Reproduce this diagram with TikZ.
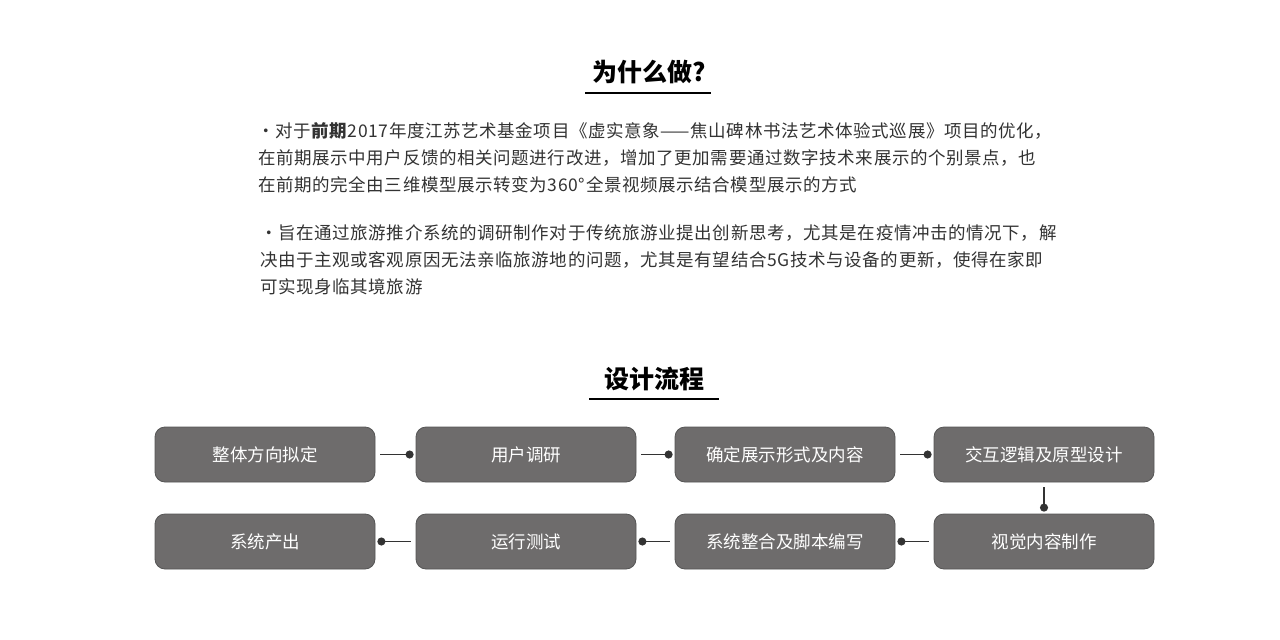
\documentclass[tikz,border=0pt]{standalone}
\usepackage{fontspec}
\setmainfont{Noto Sans CJK SC}
\newfontfamily\paraf[LetterSpace=3.5]{Noto Sans CJK SC}
\usetikzlibrary{arrows.meta}
\definecolor{boxg}{HTML}{6E6C6C}
\definecolor{edgeg}{HTML}{555555}
\definecolor{txt}{HTML}{333333}
\begin{document}
\begin{tikzpicture}[x=1pt,y=-1pt,
  stepbox/.style={draw=edgeg,line width=0.8pt,fill=boxg,rounded corners=10pt,minimum width=220pt,minimum height=55pt,text=white,font=\fontsize{17.5}{20}\selectfont,inner sep=0pt},
  conn/.style={draw=txt,line width=1.6pt,-{Circle[length=8pt,width=8pt]},shorten <=5pt,shorten >=2pt},
  para/.style={anchor=west,text=txt,font=\paraf\fontsize{17.5}{20}\selectfont,inner sep=0pt},
  ttl/.style={font=\fontsize{25}{30}\selectfont\bfseries,text=black,inner sep=0pt}]
\useasboundingbox[fill=white] (0,0) rectangle (1280,640);
\node[ttl] (t1) at (649,72) {为什么做?};
\draw[line width=1.5pt] (585,93) -- (711,93);
\node[para] (p1) at (257,131) {·对于\textbf{前期}2017年度江苏艺术基金项目《虚实意象——焦山碑林书法艺术体验式巡展》项目的优化，};
\node[para] (p2) at (258,158) {在前期展示中用户反馈的相关问题进行改进，增加了更加需要通过数字技术来展示的个别景点，也};
\node[para] (p3) at (258,185) {在前期的完全由三维模型展示转变为360°全景视频展示结合模型展示的方式};
\node[para] (p4) at (260,233) {·旨在通过旅游推介系统的调研制作对于传统旅游业提出创新思考，尤其是在疫情冲击的情况下，解};
\node[para] (p5) at (260,260) {决由于主观或客观原因无法亲临旅游地的问题，尤其是有望结合5G技术与设备的更新，使得在家即};
\node[para] (p6) at (260,287) {可实现身临其境旅游};
\node[ttl] (t2) at (654,379) {设计流程};
\draw[line width=1.5pt] (589,399) -- (719,399);
\node[stepbox] (a) at (265,454.5) {整体方向拟定};
\node[stepbox] (b) at (526,454.5) {用户调研};
\node[stepbox] (c) at (785,454.5) {确定展示形式及内容};
\node[stepbox] (d) at (1044,454.5) {交互逻辑及原型设计};
\node[stepbox] (e) at (1044,541.5) {视觉内容制作};
\node[stepbox] (f) at (785,541.5) {系统整合及脚本编写};
\node[stepbox] (g) at (526,541.5) {运行测试};
\node[stepbox] (h) at (265,541.5) {系统产出};
\draw[conn] (a) -- (b);
\draw[conn] (b) -- (c);
\draw[conn] (c) -- (d);
\draw[conn] (d) -- (e);
\draw[conn] (e) -- (f);
\draw[conn] (f) -- (g);
\draw[conn] (g) -- (h);
\end{tikzpicture}
\end{document}
